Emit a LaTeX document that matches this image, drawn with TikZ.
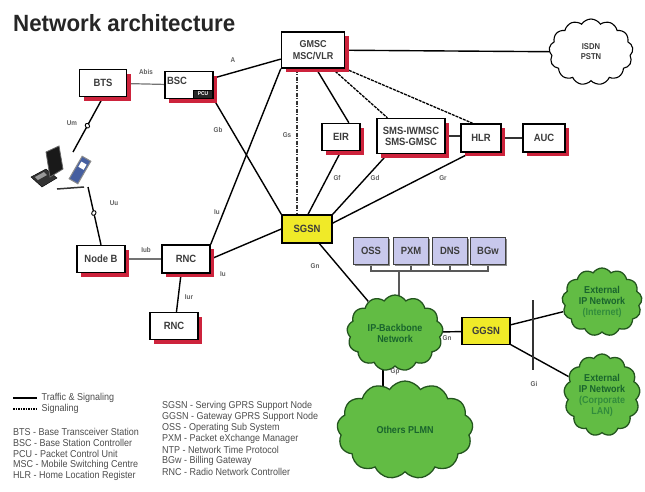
\documentclass[tikz,border=0pt]{standalone}
\usepackage{fontspec}
\setmainfont{Liberation Sans}
\newfontfamily\narrowsans[FakeStretch=0.9]{Liberation Sans}
\newfontfamily\titlesans[FakeStretch=0.95]{Liberation Sans}
\usetikzlibrary{shapes.symbols,shapes.geometric,calc}

\definecolor{shadowred}{RGB}{205,35,60}
\definecolor{gprsyellow}{RGB}{240,234,40}
\definecolor{lavender}{RGB}{200,200,236}
\definecolor{cloudgreen}{RGB}{98,188,68}
\definecolor{clouddark}{RGB}{35,85,30}
\definecolor{cloudtext}{RGB}{25,100,45}
\definecolor{cloudpale}{RGB}{50,140,60}
\definecolor{labelgray}{RGB}{95,95,95}
\definecolor{boxtext}{RGB}{60,60,60}
\definecolor{phoneblue}{RGB}{70,95,160}

\pgfdeclarelayer{background}
\pgfsetlayers{background,main}

\tikzset{
  netbox/.style={draw=black, line width=1.4pt, fill=white, text=boxtext,
    font=\narrowsans\bfseries\fontsize{10.5}{11}\selectfont, align=center, inner sep=1pt,
    preaction={fill=shadowred, transform canvas={xshift=4pt,yshift=-4pt}}},
  gprsbox/.style={draw=black, line width=1.4pt, fill=gprsyellow, text=boxtext,
    font=\narrowsans\bfseries\fontsize{10.5}{11}\selectfont, align=center, inner sep=1pt},
  mgmtbox/.style={draw=black!75, line width=1.4pt, fill=lavender, text=boxtext,
    font=\narrowsans\bfseries\fontsize{10.5}{11}\selectfont, align=center, inner sep=1pt,
    minimum width=35pt, minimum height=27pt,
    preaction={fill=black!45, transform canvas={xshift=1.5pt,yshift=-1.5pt}}},
  greencloud/.style={cloud, cloud puffs=13, cloud puff arc=115, cloud ignores aspect,
    draw=clouddark, line width=1.3pt, fill=cloudgreen, text=cloudtext, align=center,
    font=\narrowsans\bfseries\fontsize{10}{11}\selectfont, inner sep=0pt},
  whitecloud/.style={cloud, cloud puffs=13, cloud puff arc=115, cloud ignores aspect,
    draw=black, line width=1.1pt, fill=white, text=boxtext, align=center,
    font=\narrowsans\bfseries\fontsize{8.5}{10}\selectfont, inner sep=0pt},
  traffic/.style={draw=black, line width=1.4pt},
  signaling/.style={draw=black, line width=1.3pt, dash pattern=on 3pt off 1pt},
  gsline/.style={draw=black!80, line width=1.3pt, dash pattern=on 4pt off 1.5pt on 1pt off 1.5pt},
  thinlink/.style={draw=black!55, line width=1.2pt},
  buslink/.style={draw=black!65, line width=1.4pt},
  iflabel/.style={text=labelgray, font=\narrowsans\bfseries\fontsize{7}{8}\selectfont, inner sep=0pt},
  breakmark/.style={draw=black, fill=white, ellipse, line width=0.9pt, minimum width=5pt, minimum height=4pt, inner sep=0pt, rotate=-55},
  legendtext/.style={anchor=west, text=black!70, font=\narrowsans\fontsize{10}{11}\selectfont, inner sep=0pt},
}

\begin{document}
\begin{tikzpicture}[x=1pt,y=-1pt]
\useasboundingbox (0,0) rectangle (645,491);

% title
\node[anchor=west, inner sep=0pt, font=\titlesans\bfseries\fontsize{23.5}{26}\selectfont, text=black!85] (title) at (13,23) {Network architecture};

% ---------- GSM / UMTS access ----------
\node[netbox, minimum width=47pt, minimum height=27pt] (bts) at (103,83) {BTS};
\node[netbox, minimum width=48pt, minimum height=27pt, text width=44pt, align=left] (bsc) at (189,85) {BSC\\[-2pt]\phantom{X}};
\node[draw=black, fill=black!85, text=white, line width=0.8pt, inner sep=0.5pt, minimum width=19pt, minimum height=8pt,
      font=\narrowsans\bfseries\fontsize{5.5}{6}\selectfont] (pcu) at (203,94) {PCU};
\node[netbox, minimum width=48pt, minimum height=27pt] (nodeb) at (101,259) {Node B};
\node[netbox, minimum width=48pt, minimum height=28pt] (rnc) at (186,259) {RNC};
\node[netbox, minimum width=48pt, minimum height=27pt] (rnc2) at (174,326) {RNC};

% ---------- core network ----------
\node[netbox, minimum width=63pt, minimum height=36pt, font=\narrowsans\bfseries\fontsize{10}{12}\selectfont] (gmsc) at (313,50) {GMSC\\MSC/VLR};
\node[netbox, minimum width=38pt, minimum height=27pt] (eir) at (341,137) {EIR};
\node[netbox, minimum width=68pt, minimum height=35pt, font=\narrowsans\bfseries\fontsize{10.5}{11}\selectfont] (sms) at (411,136) {SMS-IWMSC\\SMS-GMSC};
\node[netbox, minimum width=40pt, minimum height=28pt] (hlr) at (481,138) {HLR};
\node[netbox, minimum width=42pt, minimum height=28pt] (auc) at (544,138) {AUC};
\node[gprsbox, minimum width=50pt, minimum height=28pt] (sgsn) at (307,229) {SGSN};
\node[gprsbox, minimum width=48pt, minimum height=27pt] (ggsn) at (486,331) {GGSN};

% ---------- management servers ----------
\node[mgmtbox] (oss) at (371,251) {OSS};
\node[mgmtbox] (pxm) at (411,251) {PXM};
\node[mgmtbox] (dns) at (450,251) {DNS};
\node[mgmtbox] (bgw) at (488,251) {BGw};

% ---------- networks ----------
\node[whitecloud, minimum width=84pt, minimum height=66pt] (isdn) at (591,52) {ISDN\\PSTN};
\node[greencloud, minimum width=96pt, minimum height=76pt] (ipbb) at (395,333) {IP-Backbone\\Network};
\node[greencloud, minimum width=80pt, minimum height=68pt] (inet) at (602,302) {External\\IP Network\\\textcolor{cloudpale}{(Internet)}};
\node[greencloud, minimum width=76pt, minimum height=82pt] (corp) at (602,395) {External\\IP Network\\\textcolor{cloudpale}{(Corporate}\\\textcolor{cloudpale}{LAN)}};
\node[greencloud, minimum width=136pt, minimum height=98pt] (others) at (405,430) {Others PLMN};

% ---------- mobile terminals ----------
% laptop: keyboard base and screen
\filldraw[fill=black!80, draw=black] (31,177) -- (46,169) -- (57,178) -- (42,187) -- cycle;
\fill[black!40] (35,177) -- (44,172) -- (47,175) -- (38,180) -- cycle;
\filldraw[fill=black!90, draw=black!60, line width=0.8pt] (46,152) -- (59,146) -- (63,169) -- (50,177) -- cycle;
% handset
\filldraw[fill=phoneblue, draw=black!45, line width=1pt, rotate around={-30:(80,170)}] (75,157) rectangle (85,183);
\fill[white, rotate around={-30:(80,170)}] (77,162) rectangle (83,168);
\draw[black!80, line width=1.5pt] (57,189) -- (84,187);
\coordinate (umEnd) at (73,152);
\coordinate (uuEnd) at (88,187);

% ---------- interface labels ----------
\node[iflabel] at (146,72) {Abis};
\node[iflabel] at (233,60) {A};
\node[iflabel] at (218,130) {Gb};
\node[iflabel] at (287,135) {Gs};
\node[iflabel] at (337,178) {Gf};
\node[iflabel] at (375,178) {Gd};
\node[iflabel] at (443,178) {Gr};
\node[iflabel] at (217,212) {Iu};
\node[iflabel] at (223,274) {Iu};
\node[iflabel] at (146,250) {Iub};
\node[iflabel] at (189,297) {Iur};
\node[iflabel] at (72,123) {Um};
\node[iflabel] at (114,203) {Uu};
\node[iflabel] at (315,266) {Gn};
\node[iflabel] at (447,338) {Gn};
\node[iflabel] at (395,372) {Gp};
\node[iflabel] (gilabel) at (534,384) {Gi};

% ---------- links (behind the boxes) ----------
\begin{pgfonlayer}{background}
\draw[thinlink] (bts) -- (bsc);
\draw[traffic] (bsc) -- (gmsc);
\draw[traffic] (bsc.south east) -- (sgsn.north west);
\draw[traffic] (rnc.north east) -- (gmsc.south west);
\draw[traffic] (rnc.east) -- (sgsn.west);
\draw[thinlink] (nodeb) -- (rnc);
\draw[traffic] ($(rnc.south west)!0.4!(rnc.south east)$) -- ($(rnc2.north west)!0.55!(rnc2.north east)$);
\draw[traffic] (gmsc) -- (isdn);
\coordinate (gsTop) at ($(gmsc.south west)!0.25!(gmsc.south east)$);
\draw[gsline] (gsTop) -- (gsTop |- sgsn.north);
\draw[traffic] ($(gmsc.south west)!0.55!(gmsc.south east)$) -- ($(eir.north west)!0.7!(eir.north east)$);
\draw[signaling] ($(gmsc.south west)!0.8!(gmsc.south east)$) -- ($(sms.north west)!0.16!(sms.north east)$);
\draw[signaling] (gmsc.south east) -- ($(hlr.north west)!0.3!(hlr.north east)$);
\draw[thinlink, draw=black!80] (sms.east) -- (sms.east -| hlr.west);
\draw[thinlink, draw=black!80] (hlr) -- (auc);
\draw[traffic] (eir.south) -- ($(sgsn.north west)!0.52!(sgsn.north east)$);
\draw[traffic] ($(sms.south west)!0.16!(sms.south east)$) -- (sgsn.north east);
\draw[traffic] ($(hlr.south west)!0.25!(hlr.south east)$) -- ($(sgsn.north east)!0.3!(sgsn.south east)$);
\draw[traffic] (sgsn) -- (ipbb);
\draw[traffic] (ipbb) -- (ggsn);
\coordinate (gpTop) at ($(ipbb.center)+(-12,0)$);
\draw[traffic] (gpTop) -- (gpTop |- others.center);
\draw[traffic] (ggsn) -- (inet);
\draw[traffic] (ggsn) -- (corp);
% management bus
\coordinate (bus) at (0,271);
\draw[buslink] (oss.south) -- (oss.south |- bus) -- (bgw.south |- bus) -- (bgw.south);
\draw[buslink] (pxm.south) -- (pxm.south |- bus);
\draw[buslink] (dns.south) -- (dns.south |- bus);
\coordinate (busTap) at (399,271);
\draw[buslink] (busTap) -- (busTap |- ipbb.center);
% radio links
\draw[traffic] (bts.south) -- (umEnd);
\draw[traffic] (nodeb.north) -- (uuEnd);
\end{pgfonlayer}
\node[breakmark] at ($(bts.south)!0.52!(umEnd)$) {};
\node[breakmark, rotate=-70] at ($(nodeb.north)!0.55!(uuEnd)$) {};

% Gi reference point
\coordinate (giTop) at (533,300);
\draw[draw=black!80, line width=1.2pt] (giTop) -- (giTop |- 0,370);

% ---------- legend ----------
\draw[traffic] (13,398) -- (37,398) node[legendtext, right=4pt] (lgTraffic) {Traffic \& Signaling};
\draw[signaling, line width=1.1pt, dash pattern=on 1.5pt off 1pt] (13,409) -- (37,409) node[legendtext, right=4pt] (lgSignal) {Signaling};
\node[legendtext] at (13,432) {BTS - Base Transceiver Station};
\node[legendtext] at (13,443) {BSC - Base Station Controller};
\node[legendtext] at (13,454) {PCU - Packet Control Unit};
\node[legendtext] at (13,465) {MSC - Mobile Switching  Centre};
\node[legendtext] at (13,476) {HLR - Home Location Register};
\node[legendtext] at (162,406) {SGSN - Serving GPRS Support Node};
\node[legendtext] at (162,417) {GGSN - Gateway GPRS Support Node};
\node[legendtext] at (162,428) {OSS - Operating Sub System};
\node[legendtext] at (162,439) {PXM - Packet eXchange Manager};
\node[legendtext] at (162,450) {NTP - Network Time Protocol};
\node[legendtext] at (162,461) {BGw - Billing Gateway};
\node[legendtext] at (162,472) {RNC - Radio Network Controller};
\end{tikzpicture}
\end{document}
